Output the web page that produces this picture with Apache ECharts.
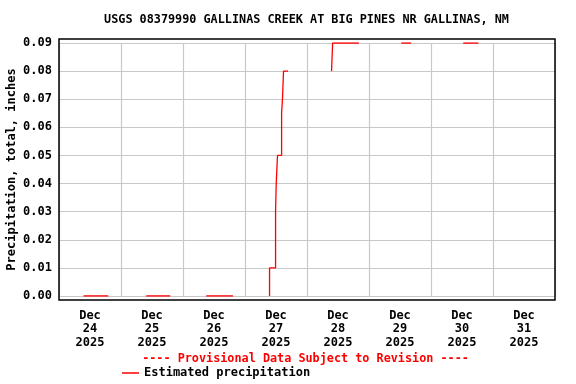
<!DOCTYPE html>
<html><head><meta charset="utf-8">
<script src="https://cdn.jsdelivr.net/npm/echarts@6/dist/echarts.min.js"></script>
<style>html,body{margin:0;padding:0;background:#fff}#c{width:576px;height:384px}</style>
</head><body><div id="c"></div>
<script>
// ---- data ----
const titleText = 'USGS 08379990 GALLINAS CREEK AT BIG PINES NR GALLINAS, NM';
const yAxisName = 'Precipitation, total, inches';
const dayLabels = ['Dec\n24\n2025','Dec\n25\n2025','Dec\n26\n2025','Dec\n27\n2025','Dec\n28\n2025','Dec\n29\n2025','Dec\n30\n2025','Dec\n31\n2025'];
const yTicks = [0,0.01,0.02,0.03,0.04,0.05,0.06,0.07,0.08,0.09];
const firstDay = 24; // Dec 24 2025 00:00 is x = 0 (days)
// each segment: [ 'DD HH:MM', cumulative inches ]
const seg24 = [['24 09:30',0],['24 19:05',0]];
const seg25 = [['25 09:45',0],['25 19:05',0]];
const seg26 = [['26 09:00',0],['26 19:20',0]];
const seg27 = [['27 09:30',0],['27 09:30',0.01],['27 11:50',0.03],['27 12:05',0.04],['27 12:35',0.05],['27 14:10',0.065],['27 14:30',0.07],['27 14:55',0.08],['27 16:40',0.08]];
const seg28 = [['28 09:30',0.08],['28 09:55',0.09],['28 20:05',0.09]];
const seg29 = [['29 12:30',0.09],['29 16:20',0.09]];
const seg30 = [['30 12:30',0.09],['30 18:20',0.09]];
const segments = [seg24, seg25, seg26, seg27, seg28, seg29, seg30];

function toDays(s){
  const [d, hm] = s.split(' ');
  const [h, m] = hm.split(':').map(Number);
  return (Number(d) - firstDay) + h/24 + m/1440;
}
const FONT = '"DejaVu Sans Mono", "Liberation Mono", monospace';
const seriesName = 'Estimated precipitation';

const chart = echarts.init(document.getElementById('c'), null, {renderer:'canvas'});
chart.setOption({
  animation: false,
  backgroundColor: '#fff',
  grid: [
    {left: 59, right: 21, top: 43, bottom: 88, show: false, containLabel: false, outerBoundsMode: 'none'},
    {left: 59, right: 21, top: 39, bottom: 84, show: true, borderColor: '#000', borderWidth: 1.5, backgroundColor: 'transparent', z: 5, containLabel: false, outerBoundsMode: 'none'}
  ],
  xAxis: [
    {type: 'value', gridIndex: 0, min: 0, max: 8, interval: 1,
     axisLine: {show: false}, axisTick: {show: false}, axisLabel: {show: false},
     splitLine: {show: true, lineStyle: {color: '#c8c8c8', width: 1.2}}},
    {type: 'category', gridIndex: 1, data: dayLabels, boundaryGap: true,
     axisLine: {show: false}, axisTick: {show: false}, splitLine: {show: false},
     axisLabel: {margin: 9, fontFamily: FONT, fontWeight: 'bold', fontSize: 12, color: '#000', lineHeight: 13.5, interval: 0}}
  ],
  yAxis: [
    {type: 'value', gridIndex: 0, min: 0, max: 0.09, interval: 0.01,
     axisLine: {show: false}, axisTick: {show: false},
     axisLabel: {margin: 7, fontFamily: FONT, fontWeight: 'bold', fontSize: 12, color: '#000', formatter: v => v.toFixed(2)},
     splitLine: {show: true, lineStyle: {color: '#c8c8c8', width: 1.2}},
     name: yAxisName, nameLocation: 'middle', nameGap: 41, nameRotate: 90, nameMoveOverlap: false,
     nameTextStyle: {fontFamily: FONT, fontWeight: 'bold', fontSize: 12, color: '#000'}},
    {type: 'value', gridIndex: 1, show: false}
  ],
  legend: {
    data: [seriesName], left: 122, top: 367, padding: 0, icon: 'rect', itemWidth: 17, itemHeight: 1.5, itemGap: 0,
    textStyle: {fontFamily: FONT, fontWeight: 'bold', fontSize: 12, color: '#000'},
    selectedMode: false
  },
  graphic: [
    {type: 'text', x: 306.5, y: 20, silent: true, style: {
      text: titleText, fill: '#000', font: 'bold 11.8px ' + FONT, textAlign: 'center', textVerticalAlign: 'middle'}},
    {type: 'text', x: 305.5, y: 359, silent: true, style: {
      text: '---- Provisional Data Subject to Revision ----', fill: '#ff0000', font: 'bold 11.8px ' + FONT, textAlign: 'center', textVerticalAlign: 'middle'}}
  ],
  series: segments.map(seg => ({
    name: seriesName, type: 'line', xAxisIndex: 0, yAxisIndex: 0, step: 'end',
    showSymbol: false, symbol: 'none', color: '#ff0000',
    lineStyle: {color: '#ff0000', width: 1.3}, z: 3,
    data: seg.map(p => [toDays(p[0]), p[1]])
  }))
});
</script></body></html>
